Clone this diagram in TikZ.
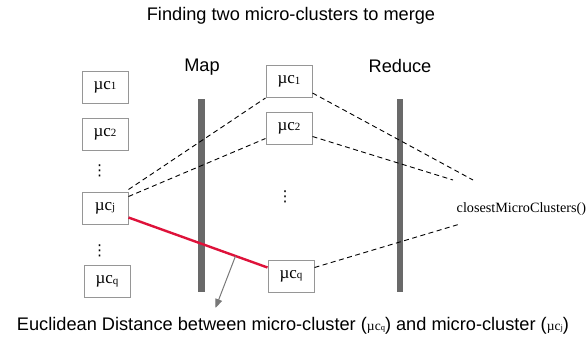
\documentclass[tikz,border=0pt]{standalone}
\usepackage{fontspec}
\setmainfont{Liberation Serif}
\setsansfont{Liberation Sans}
\newfontfamily\symfont{DejaVu Sans}
\usetikzlibrary{calc,arrows.meta}
\definecolor{boxgray}{RGB}{150,150,150}
\definecolor{bargray}{RGB}{105,105,105}
\definecolor{linkred}{RGB}{222,18,58}
\definecolor{arrowgray}{RGB}{120,120,120}
% micro-cluster label: serif "µc" with a small index
\newcommand{\mcl}[1]{\fontsize{17}{17}\selectfont µc\raisebox{-0.5pt}{\fontsize{11}{11}\selectfont #1}}
\newcommand{\mcs}[1]{{\rmfamily\fontsize{13.5}{13.5}\selectfont µc\fontsize{8.5}{8.5}\selectfont #1}}
\begin{document}
\begin{tikzpicture}[x=1pt,y=-1pt,
  mcbox/.style={draw=boxgray,line width=1pt,minimum width=46pt,minimum height=32pt,inner sep=0pt,font=\rmfamily},
  vdots/.style={inner sep=0pt,font=\symfont\fontsize{15}{15}\selectfont},
  heading/.style={font=\sffamily\fontsize{18.2}{19}\selectfont,inner sep=0pt},
  bar/.style={fill=bargray,draw=none},
  link/.style={draw=black,line width=0.9pt,dash pattern=on 5pt off 3.5pt},
  pair/.style={draw=linkred,line width=2.4pt},
  pointer/.style={draw=arrowgray,line width=1pt,-{Triangle[length=9pt,width=7pt]}}]
\useasboundingbox (0,0) rectangle (587,341);

% title and caption
\node[heading] (title) at (291,16) {Finding two micro-clusters to merge};
\node[heading] (caption) at (293,326)
  {Euclidean Distance between micro-cluster (\mcs{q}) and micro-cluster (\mcs{j})};

% phase separators
\node[heading] (maplabel) at (202,67) {Map};
\node[heading] (redlabel) at (400,66) {Reduce};
\fill[bar] (198,99) rectangle (205,292);
\fill[bar] (397,99) rectangle (403,292);

% input micro-clusters
\node[mcbox] (l1) at (105,87) {\mcl{1}};
\node[mcbox] (l2) at (105,134) {\mcl{2}};
\node[vdots] (ld1) at (99.5,171) {⋮};
\node[mcbox] (lj) at (105,208) {\mcl{j}};
\node[vdots] (ld2) at (99.5,251) {⋮};
\node[mcbox] (lq) at (107,281.5) {\mcl{q}};

% mapped micro-clusters
\node[mcbox] (m1) at (289,81.5) {\mcl{1}};
\node[mcbox] (m2) at (289,128) {\mcl{2}};
\node[vdots] (md) at (285,197) {⋮};
\node[mcbox] (mq) at (291,276) {\mcl{q}};

% reducer
\node[font=\rmfamily\fontsize{14.2}{15}\selectfont,inner sep=0pt,anchor=west] (closest) at (456.5,209) {closestMicroClusters()};
\coordinate (r1) at (473,180);
\coordinate (r2) at (453,180);
\coordinate (rq) at (460,224);

% map links
\draw[link] ($(lj.north east)+(0,-2)$) -- (m1.south west);
\draw[link] ($(lj.north east)+(0,5)$) -- ($(m2.south west)+(0,-6)$);
\draw[pair] ($(lj.south east)+(0,-7)$) coordinate (pa) -- ($(mq.north west)+(0,8)$) coordinate (pb);

% reduce links
\draw[link] ($(m1.south east)+(0,-5)$) -- (r1);
\draw[link] ($(m2.south east)+(0,-8)$) -- (r2);
\draw[link] ($(mq.north east)+(0,8)$) -- (rq);

% distance pointer
\coordinate (pstart) at ($(pa)!0.77!(pb)$);
\coordinate (pend) at (215.5,308);
\draw[pointer] (pstart) -- (pend);
\end{tikzpicture}
\end{document}
